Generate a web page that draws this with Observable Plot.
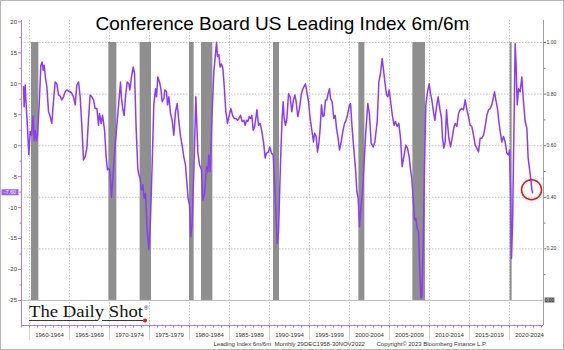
<!DOCTYPE html>
<html><head><meta charset="utf-8">
<script src="https://cdn.jsdelivr.net/npm/d3@7"></script>
<script src="https://cdn.jsdelivr.net/npm/@observablehq/plot@0.6"></script>
<style>body{margin:0;background:#fff}</style>
</head><body><div id="chart"></div>
<script>
const title = "Conference Board US Leading Index 6m/6m";
const footerLeft = "Leading Index 6m/6m  Monthly 29DEC1958-30NOV2022";
const footerRight = "Copyright\u00A9 2023 Bloomberg Finance L.P.";
const logoText = "The Daily Shot";

const periodStarts = [1960,1965,1970,1975,1980,1985,1990,1995,2000,2005,2010,2015,2020];
const periodLabels = ["1960-1964","1965-1969","1970-1974","1975-1979","1980-1984","1985-1989","1990-1994","1995-1999","2000-2004","2005-2009","2010-2014","2015-2019","2020-2024"];
const leftTicks = [20,15,10,5,0,-5,-10,-15,-20,-25];
const leftMinor = [17.5,12.5,7.5,2.5,-2.5,-7.5,-12.5,-17.5,-22.5];
const rightTicks = [0.2,0.4,0.6,0.8,1.0];
const rightMinor = [0.1,0.3,0.5,0.7,0.9];

// NBER recessions (right axis indicator = 1 inside)
const recStart = [1960.25,1969.92,1973.83,1980.0,1981.5,1990.5,2001.17,2007.92,2020.08];
const recEnd   = [1961.17,1970.92,1975.25,1980.58,1982.92,1991.25,2001.92,2009.5,2020.33];
const recOn = 1, recLatest = 0;

// Leading index 6m/6m, [decimal year, %]
const lei = [
[1959.25,9.5],[1959.33,6.3],[1959.46,9.8],[1959.58,6.6],[1959.75,2.8],[1959.92,-1.4],[1960.08,2.3],[1960.25,1.7],[1960.46,4.8],[1960.58,0.8],[1960.71,2.4],[1960.88,0.8],[1961.0,1.7],[1961.21,6.6],[1961.42,13.0],[1961.58,13.5],[1961.71,12.2],[1961.83,13.0],[1962.0,10.9],[1962.17,9.5],[1962.38,5.5],[1962.58,4.7],[1962.79,3.6],[1962.96,6.6],
[1963.21,10.3],[1963.42,10.0],[1963.63,8.2],[1963.83,8.0],[1964.04,7.4],[1964.25,7.9],[1964.46,8.7],[1964.67,9.0],[1964.88,8.8],[1965.21,8.6],[1965.5,7.9],[1965.71,6.6],[1965.92,9.8],[1966.13,10.3],[1966.33,7.9],[1966.54,3.3],[1966.75,-2.3],[1966.96,-1.8],[1967.17,-0.4],[1967.38,4.4],[1967.58,8.2],[1967.79,7.9],[1968.0,7.4],[1968.21,6.0],[1968.42,6.0],[1968.63,3.3],[1968.75,5.2],[1968.96,3.6],[1969.13,4.9],[1969.38,2.5],[1969.58,-1.8],[1969.75,-3.9],[1969.88,-3.7],
[1970.04,-4.0],[1970.25,-8.4],[1970.42,-5.3],[1970.67,-0.4],[1970.96,3.9],[1971.17,7.1],[1971.38,10.3],[1971.5,7.6],[1971.67,5.8],[1971.83,4.9],[1972.0,7.9],[1972.21,10.3],[1972.42,10.0],[1972.54,9.0],[1972.75,11.1],[1972.96,12.7],[1973.13,11.7],[1973.33,2.8],[1973.54,-3.7],[1973.67,-4.7],[1973.83,-5.3],[1974.0,-7.2],[1974.17,-6.3],[1974.33,-8.5],[1974.5,-7.7],[1974.71,-13.9],[1974.92,-16.8],[1975.13,-11.7],[1975.33,-3.1],[1975.54,6.6],[1975.75,9.2],[1975.88,7.9],
[1976.04,11.1],[1976.25,10.3],[1976.42,9.2],[1976.58,7.1],[1976.79,7.6],[1976.92,9.0],[1977.13,8.7],[1977.25,6.6],[1977.42,7.9],[1977.63,5.2],[1977.83,4.1],[1978.04,1.7],[1978.25,5.5],[1978.46,6.8],[1978.67,3.9],[1978.88,1.5],[1979.08,0.1],[1979.29,-1.8],[1979.5,-3.1],[1979.63,-5.3],[1979.83,-8.5],[1980.0,-9.6],[1980.17,-14.7],[1980.33,-12.8],[1980.54,-4.2],[1980.79,7.9],
[1981.04,-1.0],[1981.25,-3.1],[1981.5,-3.9],[1981.67,-8.8],[1981.88,-7.7],[1982.13,-3.4],[1982.29,-4.2],[1982.42,-1.5],[1982.58,-4.2],[1982.83,5.5],[1983.04,11.9],[1983.38,16.7],[1983.5,14.4],[1983.67,14.7],[1983.83,12.7],[1984.0,13.2],[1984.17,12.5],[1984.33,9.8],[1984.54,5.5],[1984.75,3.6],[1984.96,4.9],[1985.17,6.0],[1985.38,4.9],[1985.58,4.4],[1985.79,4.4],[1986.0,4.1],[1986.17,4.4],[1986.38,4.9],[1986.58,3.9],[1986.79,4.1],[1986.96,3.3],[1987.13,4.1],[1987.29,3.9],[1987.46,4.7],[1987.63,4.4],[1987.79,4.9],[1987.96,2.5],[1988.13,3.0],[1988.29,4.4],[1988.42,5.8],[1988.63,3.3],[1988.83,3.6],[1989.04,2.3],[1989.25,0.6],[1989.46,-2.0],[1989.63,-1.2],[1989.88,-1.0],
[1990.04,-0.2],[1990.25,-1.2],[1990.46,-1.5],[1990.63,-5.8],[1990.79,-10.6],[1990.96,-15.8],[1991.13,-13.9],[1991.29,-6.5],[1991.42,-1.0],[1991.58,4.5],[1991.71,7.1],[1991.83,4.4],[1992.0,3.3],[1992.17,4.4],[1992.38,8.4],[1992.58,7.9],[1992.79,5.5],[1993.0,7.4],[1993.17,8.2],[1993.33,7.1],[1993.54,4.7],[1993.75,6.0],[1993.96,8.2],[1994.17,9.2],[1994.29,9.5],[1994.5,10.0],[1994.67,8.7],[1994.88,7.1],[1995.08,4.4],[1995.29,2.5],[1995.5,0.6],[1995.63,2.0],[1995.83,1.5],[1996.0,-1.0],[1996.17,0.4],[1996.33,2.8],[1996.5,6.6],[1996.67,4.7],[1996.83,4.9],[1997.0,7.4],[1997.17,7.4],[1997.33,8.4],[1997.5,9.2],[1997.63,7.6],[1997.83,7.1],[1998.04,4.4],[1998.21,4.9],[1998.38,2.8],[1998.58,1.2],[1998.75,-0.7],[1998.96,0.6],[1999.17,2.3],[1999.38,3.6],[1999.58,4.1],[1999.79,5.2],
[2000.0,6.6],[2000.13,6.8],[2000.33,2.8],[2000.5,0.1],[2000.75,-3.7],[2000.92,-7.4],[2001.08,-8.5],[2001.25,-13.1],[2001.42,-10.1],[2001.63,-7.4],[2001.83,-2.6],[2002.04,2.3],[2002.29,6.8],[2002.5,5.0],[2002.71,0.4],[2002.96,-0.2],[2003.17,0.6],[2003.46,3.9],[2003.67,10.3],[2003.88,11.7],[2004.08,14.1],[2004.21,12.7],[2004.42,10.3],[2004.63,8.2],[2004.79,7.9],[2004.96,9.0],[2005.17,6.8],[2005.38,4.7],[2005.58,3.3],[2005.75,3.9],[2005.96,3.1],[2006.17,3.6],[2006.38,1.2],[2006.58,-3.4],[2006.79,-1.8],[2007.04,0.1],[2007.25,-0.4],[2007.46,-1.8],[2007.63,-3.9],[2007.79,-5.3],[2007.96,-8.5],[2008.13,-12.0],[2008.29,-11.7],[2008.46,-13.3],[2008.63,-13.9],[2008.79,-20.3],[2008.92,-24.6],[2009.04,-24.4],[2009.21,-16.0],[2009.38,-3.1],[2009.54,6.6],[2009.75,8.7],[2009.96,10.0],
[2010.13,8.4],[2010.29,7.4],[2010.46,5.8],[2010.67,4.1],[2010.88,6.3],[2011.08,7.9],[2011.29,6.0],[2011.5,4.4],[2011.63,1.2],[2011.79,-0.4],[2011.96,0.6],[2012.13,5.8],[2012.25,3.6],[2012.42,1.2],[2012.63,-0.2],[2012.83,1.2],[2013.04,2.9],[2013.21,3.6],[2013.42,3.1],[2013.63,5.2],[2013.83,5.8],[2014.04,6.0],[2014.25,5.8],[2014.46,7.4],[2014.67,5.8],[2014.88,4.7],[2015.08,3.3],[2015.29,3.1],[2015.5,1.7],[2015.71,0.1],[2015.92,-0.4],[2016.13,-1.0],[2016.33,1.2],[2016.54,1.2],[2016.75,1.7],[2016.96,3.1],[2017.17,4.9],[2017.38,5.8],[2017.58,6.0],[2017.79,6.6],[2018.0,7.9],[2018.13,8.7],[2018.29,7.4],[2018.5,6.0],[2018.67,3.9],[2018.83,2.3],[2019.04,0.6],[2019.25,1.5],[2019.46,0.6],[2019.67,-1.2],[2019.88,-1.5],
[2020.0,-0.7],[2020.13,-6.9],[2020.25,-18.2],[2020.38,-12.8],[2020.54,1.2],[2020.71,16.5],[2020.83,13.0],[2020.96,6.6],[2021.13,9.2],[2021.33,8.7],[2021.54,11.1],[2021.75,7.1],[2021.96,3.9],[2022.17,2.8],[2022.33,-2.0],[2022.5,-3.7],[2022.67,-5.5],[2022.79,-7.0],[2022.88,-7.6]
];

const purple = "#8b3cf7";
const axisPurple = "#a77bff";
const xDomain = [1959, 2024.25];
const yDomain = [-29.04, 20.22];
const r2l = r => -25 + r * 125 / 3;           // right-axis (0..1) to left-axis units
const l2r = v => (v + 25) * 3 / 125;

const series = lei.map(([t, v]) => ({t, v}));
const recessions = recStart.map((s, i) => ({start: s, end: recEnd[i]}));
const lastPoint = series[series.length - 1];
const years = d3.range(1959, 2025);

function overlay(index, scales, values, dims) {
  const {width, height, marginLeft, marginRight, marginBottom} = dims;
  const g = d3.create("svg:g").attr("font-family", "'Liberation Sans', Arial, sans-serif");
  g.append("rect").attr("x", 0.5).attr("y", 0.5).attr("width", width - 1).attr("height", height - 1)
    .attr("fill", "none").attr("stroke", "#b8b8b8");
  // last value tag, left
  const ly = scales.y(lastPoint.v);
  g.append("rect").attr("x", 1.5).attr("y", ly - 3).attr("width", 17).attr("height", 6).attr("fill", "#9c5cff");
  g.append("text").attr("x", 10).attr("y", ly).attr("dy", "0.36em").attr("text-anchor", "middle")
    .attr("font-size", 5.2).attr("fill", "#fff").text(lastPoint.v.toFixed(2));
  // last value tag, right
  const ry = scales.y(r2l(recLatest));
  const rx = width - marginRight + 1.5;
  g.append("rect").attr("x", rx).attr("y", ry - 2.8).attr("width", 10).attr("height", 5.6).attr("fill", "#9a9a9a");
  g.append("text").attr("x", rx + 5).attr("y", ry).attr("dy", "0.36em").attr("text-anchor", "middle")
    .attr("font-size", 5).attr("fill", "#111").text(recLatest.toFixed(2));
  // logo
  const lx = marginLeft + 8, lb = height - marginBottom - 8;
  g.append("text").attr("x", lx).attr("y", lb).attr("text-anchor", "start")
    .attr("font-family", "'Liberation Serif', 'DejaVu Serif', serif")
    .attr("font-size", 17).attr("fill", "#151515").attr("textLength", 114).attr("lengthAdjust", "spacingAndGlyphs")
    .text(logoText);
  g.append("line").attr("x1", lx).attr("x2", lx + 68).attr("y1", lb + 3.5).attr("y2", lb + 3.5).attr("stroke", "#222").attr("stroke-width", 0.9);
  g.append("line").attr("x1", lx + 73).attr("x2", lx + 114).attr("y1", lb + 3.5).attr("y2", lb + 3.5).attr("stroke", "#222").attr("stroke-width", 0.9);
  g.append("circle").attr("cx", lx + 116).attr("cy", lb + 3.5).attr("r", 2).attr("fill", "#e01818");
  g.append("text").attr("x", lx + 115).attr("y", lb - 7).attr("text-anchor", "start").attr("font-size", 6).attr("fill", "#222").text("\u00AE");
  return g.node();
}

const chart = Plot.plot({
  width: 564, height: 350,
  marginLeft: 21, marginRight: 21, marginTop: 20, marginBottom: 25,
  style: {fontFamily: "'Liberation Sans', Arial, sans-serif", fontSize: "6px", background: "#fff", color: "#333"},
  x: {type: "linear", domain: xDomain, label: null},
  y: {domain: yDomain, label: null},
  marks: [
    Plot.gridX(periodStarts, {stroke: "#c4c4c4", strokeOpacity: 1, strokeDasharray: "1.5,1.5"}),
    Plot.gridY(rightTicks.map(r2l), {stroke: "#c4c4c4", strokeOpacity: 1, strokeDasharray: "1.5,1.5"}),
    Plot.rect(recessions, {x1: "start", x2: "end", y1: () => r2l(0), y2: () => r2l(recOn), fill: "#8f8f8f"}),
    Plot.ruleY([r2l(0)], {stroke: "#c0c0c0"}),
    Plot.line(series, {x: "t", y: "v", stroke: purple, strokeWidth: 1.5}),
    Plot.ruleX([xDomain[0]], {stroke: axisPurple}),
    Plot.ruleX([xDomain[1]], {stroke: "#a0a0a0"}),
    Plot.axisX(periodStarts, {anchor: "bottom", tickSize: 15, stroke: "#d4d4d4", tickFormat: () => "", label: null}),
    Plot.axisX(years, {anchor: "bottom", tickSize: 2.5, stroke: axisPurple, tickFormat: () => "", label: null}),
    Plot.ruleY([yDomain[0]], {stroke: axisPurple}),
    Plot.text(periodLabels, {x: (d, i) => periodStarts[i] + 2.5, frameAnchor: "bottom", dy: 11, fontSize: 6, fill: "#333"}),
    Plot.axisY(leftTicks, {anchor: "left", tickSize: 3, tickPadding: 1.5, stroke: axisPurple, fill: "#333", fontSize: 6, tickFormat: d => String(d), label: null}),
    Plot.axisY(leftMinor, {anchor: "left", tickSize: 1.5, stroke: axisPurple, tickFormat: () => "", label: null}),
    Plot.axisY(rightTicks.map(r2l), {anchor: "right", tickSize: 2, tickPadding: 1, stroke: "#777", fill: "#333", fontSize: 5, tickFormat: d => l2r(d).toFixed(2), label: null}),
    Plot.axisY(rightMinor.map(r2l), {anchor: "right", tickSize: 1.5, stroke: "#777", tickFormat: () => "", label: null}),
    Plot.dot([lastPoint], {x: "t", y: "v", r: 10, stroke: "#e5161c", strokeWidth: 1.5, fill: "none", dx: -1, dy: -3}),
    Plot.text([title], {frameAnchor: "top", dy: -4, fontSize: 19, fill: "#000"}),
    Plot.text([footerLeft], {frameAnchor: "bottom-left", dx: 192, dy: 20, textAnchor: "start", fontSize: 6, fill: "#333"}),
    Plot.text([footerRight], {frameAnchor: "bottom-left", dx: 355, dy: 20, textAnchor: "start", fontSize: 6, fill: "#333"}),
    overlay
  ]
});
document.getElementById("chart").appendChild(chart);
</script>
</body></html>
